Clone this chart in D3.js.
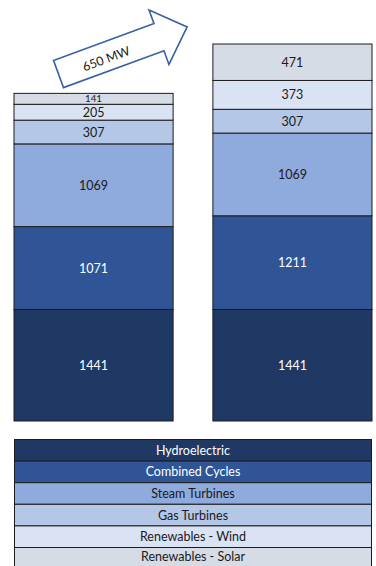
<!DOCTYPE html>
<html>
<head>
<meta charset="utf-8">
<script src="https://cdn.jsdelivr.net/npm/d3@7"></script>
<style>
  html, body { margin: 0; padding: 0; background: #ffffff; }
  svg { display: block; font-family: Lato, "Open Sans", "Liberation Sans", sans-serif; }
</style>
</head>
<body>
<svg id="chart" width="376" height="566"></svg>
<script>
// Generation technologies, stacked bottom to top
const categories = ["Hydroelectric", "Combined Cycles", "Steam Turbines", "Gas Turbines", "Renewables - Wind", "Renewables - Solar"];
// Installed capacity (MW) per scenario
const scenarios = ["Current", "Expanded"];
const currentMW = [1441, 1071, 1069, 307, 205, 141];
const expandedMW = [1441, 1211, 1069, 307, 373, 471];
const arrowLabel = "650 MW";

const colors = ["#203864", "#2f5597", "#8faadc", "#b4c7e7", "#dae3f3", "#d6dce5"];
const labelColors = ["#ffffff", "#ffffff", "#1a1a1a", "#1a1a1a", "#1a1a1a", "#1a1a1a"];

const svg = d3.select("#chart");

// Build stacked rows
const rows = scenarios.map((s, i) => {
  const vals = i === 0 ? currentMW : expandedMW;
  const r = { scenario: s };
  categories.forEach((c, j) => r[c] = vals[j]);
  return r;
});
const stack = d3.stack().keys(categories)(rows);
const maxTotal = d3.max(rows, r => d3.sum(categories, c => r[c]));

const x = d3.scaleBand().domain(scenarios).range([14, 372]).paddingInner(0.2).paddingOuter(0);
const y = d3.scaleLinear().domain([0, maxTotal]).range([421, 44]);

const layers = svg.append("g").selectAll("g.layer")
  .data(stack).join("g").attr("class", "layer");

layers.each(function (layer, li) {
  const g = d3.select(this);
  g.selectAll("rect").data(layer).join("rect")
    .attr("x", d => x(d.data.scenario))
    .attr("width", x.bandwidth())
    .attr("y", d => y(d[1]))
    .attr("height", d => y(d[0]) - y(d[1]))
    .attr("fill", colors[li])
    .attr("stroke", "#1c1c1c")
    .attr("stroke-width", 1);
  // Shrink the label only where the segment is too thin for it
  g.selectAll("text").data(layer).join("text")
    .attr("x", d => x(d.data.scenario) + x.bandwidth() / 2)
    .attr("y", d => (y(d[0]) + y(d[1])) / 2)
    .attr("dy", "0.36em")
    .attr("text-anchor", "middle")
    .attr("font-size", d => Math.min(12.5, (y(d[0]) - y(d[1])) - 1.2))
    .attr("fill", labelColors[li])
    .text(d => d[1] - d[0]);
});

// Growth arrow annotation
const arrow = svg.append("g").attr("transform", "translate(58.5,74) rotate(-20.1)");
const L = 137, hw = 14.5, headW = 29, headL = 30;
arrow.append("path")
  .attr("d", `M0,${-hw} L${L - headL},${-hw} L${L - headL},${-headW} L${L},0 L${L - headL},${headW} L${L - headL},${hw} L0,${hw} Z`)
  .attr("fill", "#ffffff")
  .attr("stroke", "#3a62a8")
  .attr("stroke-width", 1.6)
  .attr("stroke-linejoin", "miter");
arrow.append("text")
  .attr("x", 50).attr("y", 2).attr("dy", "0.36em")
  .attr("text-anchor", "middle")
  .attr("font-size", 12.5)
  .attr("fill", "#1a1a1a")
  .text(arrowLabel);

// Legend table, top row = bottom of stack
const legendTop = 439.5, rowH = 21.6;
const legendItems = categories.map((c, i) => ({ name: c, color: colors[i], text: labelColors[i] }));
const legend = svg.append("g").selectAll("g").data(legendItems).join("g")
  .attr("transform", (d, i) => `translate(14.5,${legendTop + i * rowH})`);
legend.append("rect")
  .attr("width", 357).attr("height", rowH)
  .attr("fill", d => d.color)
  .attr("stroke", "#1c1c1c").attr("stroke-width", 1);
legend.append("text")
  .attr("x", 357 / 2).attr("y", (d, i) => i === legendItems.length - 1 ? rowH / 2 - 2 : rowH / 2)
  .attr("dy", "0.36em")
  .attr("text-anchor", "middle")
  .attr("font-size", 12.5)
  .attr("fill", d => d.text)
  .text(d => d.name);
</script>
</body>
</html>
